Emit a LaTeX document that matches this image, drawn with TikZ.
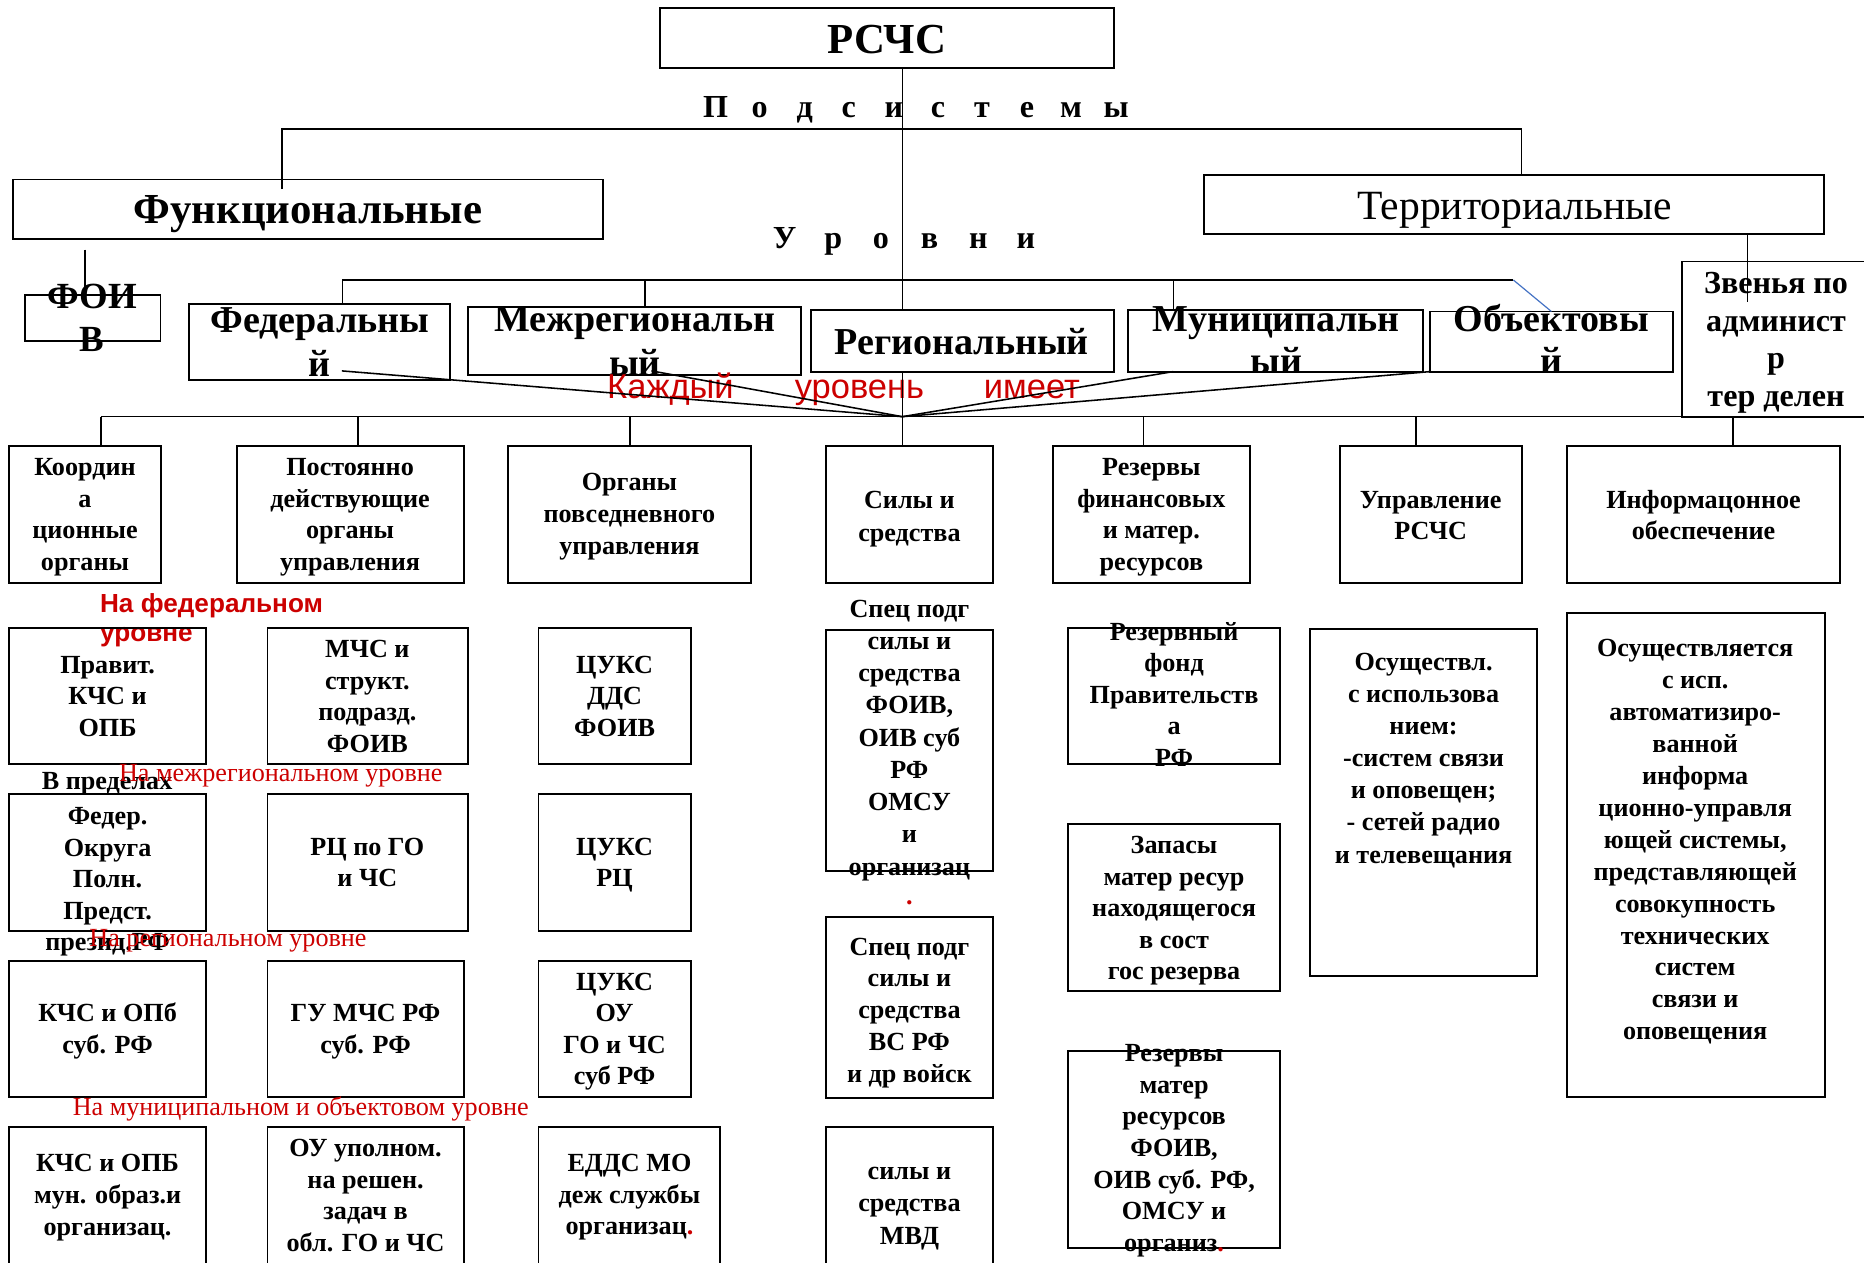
\documentclass[tikz,border=0pt]{standalone}
\usepackage{fontspec}
\setmainfont{Liberation Serif}
\setsansfont{Liberation Sans}
\definecolor{redc}{RGB}{204,0,0}
\definecolor{bluec}{RGB}{68,114,196}
\tikzset{
  boxst/.style={draw, line width=1.6pt, inner sep=0pt, outer sep=0pt},
  conn/.style={line width=1.3pt},
  big/.style={font=\fontsize{32}{37}\selectfont\bfseries, inner sep=0pt},
  huge/.style={font=\fontsize{36}{40}\selectfont\bfseries, inner sep=0pt},
  fvst/.style={font=\fontsize{31}{36}\selectfont\bfseries, inner sep=0pt},
  zvst/.style={font=\fontsize{27}{31}\selectfont\bfseries, inner sep=0pt},
  spc/.style={font=\fontsize{27}{30}\selectfont\bfseries, inner sep=0pt, anchor=base},
  sm/.style={font=\fontsize{22}{27}\selectfont\bfseries, inner sep=0pt},
  redsb/.style={font=\sffamily\fontsize{22}{25}\selectfont\bfseries, text=redc, inner sep=0pt, anchor=base west},
  redser/.style={font=\fontsize{22}{25}\selectfont, text=redc, inner sep=0pt, anchor=base west},
  redbig/.style={font=\sffamily\fontsize{29}{32}\selectfont, text=redc, inner sep=0pt, anchor=base},
}
\newcommand\bx[5]{\node[boxst, minimum width={(#4)-(#2)}, minimum height={(#5)-(#3)}] (#1) at ({((#2)+(#4))/2},{((#3)+(#5))/2}) {};}
\newcommand\mtext[6]{%
  \foreach \lnx [count=\k from 0] in {#6} {%
    \node[anchor=base, #5] (#1-\k) at (#2, {#3+\k*#4}) {\lnx};
  }%
}
\begin{document}
\begin{tikzpicture}[x=1pt,y=-1pt]
\useasboundingbox (0,0) rectangle (1568,1062);
\fill[white] (0,0) rectangle (1568,1062);
\clip (0,0) rectangle (1568,1062);

% top
\bx{rschs}{555}{7}{937}{57}
\node[huge, anchor=base] (trschs) at (746,45) {РСЧС};
\foreach \c/\xx [count=\k] in {П/602, о/639, д/677, с/714, и/752, с/789, т/826, е/864, м/901, ы/939}
  \node[spc] (sub\k) at (\xx,98.7) {\c};
\foreach \c/\xx [count=\k] in {У/660, р/701, о/741, в/782, н/823, и/863}
  \node[spc] (urv\k) at (\xx,209) {\c};

\bx{func}{11}{151}{507}{201}
\node[huge, anchor=base] (tfunc) at (259,188.4) {Функциональные};
\bx{terr}{1013}{147}{1534}{197}
\node[font=\fontsize{35}{40}\selectfont, inner sep=0pt, anchor=base] (tterr) at (1274,185) {Территориальные};

\bx{foiv}{21}{248}{135}{287}
\mtext{tfoiv}{77.5}{259.4}{36.5}{fvst}{ФОИ,В}

% levels
\bx{fed}{159}{256}{378.5}{320}
\mtext{tfed}{269}{280}{37}{big}{Федеральны,й}
\bx{mezh}{393.5}{258}{673.6}{315.5}
\mtext{tmezh}{534}{279}{36.6}{big}{Межрегиональн,ый}
\bx{reg}{682}{261}{937}{313}
\node[big, anchor=base] (treg) at (809,298.6) {Региональный};
\bx{mun}{949}{261}{1197}{312.6}
\mtext{tmun}{1073.5}{279}{35}{big}{Муниципальн,ый}
\bx{obj}{1203}{262}{1407}{312.6}
\mtext{tobj}{1305}{279}{35}{big}{Объектовы,й}
\bx{zven}{1415}{220}{1600}{350.5}
\mtext{tzven}{1494}{247}{31.7}{zvst}{Звенья по,админист,р,тер делен}

\node[redbig] (kw1) at (564,335) {Каждый};
\node[redbig] (kw2) at (723,335) {уровень};
\node[redbig] (kw3) at (868,335) {имеет};

% categories
\bx{koord}{7.5}{375}{135.5}{490.5}
\mtext{tkoord}{71.5}{400}{26.6}{sm}{Координ,а,ционные,органы}
\bx{post}{199}{375}{390}{490.5}
\mtext{tpost}{294.5}{400}{26.6}{sm}{Постоянно,действующие,органы,управления}
\bx{org}{427.5}{375}{631.5}{490.5}
\mtext{torg}{529.5}{413}{26.8}{sm}{Органы,повседневного,управления}
\bx{sily}{694.6}{375}{835}{490.5}
\mtext{tsily}{765}{428}{27.5}{sm}{Силы и,средства}
\bx{rez}{885.5}{375}{1051.5}{490.5}
\mtext{trez}{968.5}{400}{26.6}{sm}{Резервы,финансовых,и матер.,ресурсов}
\bx{upr}{1127}{375}{1280}{490.5}
\mtext{tupr}{1203.5}{427.6}{26.6}{sm}{Управление,РСЧС}
\bx{info}{1318}{375}{1547.6}{490.5}
\mtext{tinfo}{1433}{427.6}{26.6}{sm}{Информацонное,обеспечение}

% row 2
\mtext{tnafed}{84}{515}{25}{redsb}{На федеральном,уровне}
\bx{prav}{7.5}{528}{173.5}{642.7}
\mtext{tprav}{90.5}{566.4}{26.6}{sm}{Правит.,КЧС и,ОПБ}
\bx{mchs}{225}{528}{393.5}{642.7}
\mtext{tmchs}{309}{553}{26.6}{sm}{МЧС и,структ.,подразд.,ФОИВ}
\bx{cuks1}{453}{528}{581}{642.7}
\mtext{tcuks1}{517}{566.4}{26.6}{sm}{ЦУКС,ДДС,ФОИВ}
\bx{spec1}{694.6}{529.7}{835}{732.7}
\mtext{tspec1}{765}{519.3}{27.1}{sm}{Спец подг,силы и,средства,{ФОИВ,},ОИВ суб,РФ,ОМСУ,и,организац}
\node[sm, text=redc, anchor=base] (rdot) at (765,761) {.};
\bx{rezf}{898.6}{528}{1076.6}{642.7}
\mtext{trezf}{987.6}{538.4}{26.6}{sm}{Резервный,фонд,Правительств,а,РФ}
\bx{osu}{1102}{529}{1293}{821}
\mtext{tosu}{1197.5}{564}{27}{sm}{Осуществл.,с использова,нием:,-систем связи,и оповещен;,- сетей радио,и телевещания}
\bx{osu2}{1318}{516}{1535}{922.5}
\mtext{tosu2}{1426}{552}{26.9}{sm}{Осуществляется,с исп.,автоматизиро-,ванной,информа,ционно-управля,{ющей системы,},представляющей,совокупность,технических,систем,связи и,оповещения}

% row 3
\node[sm, anchor=base west] (tvpred) at (35,664.5) {В пределах};
\node[redser] (tnamezh) at (100,657.5) {На межрегиональном уровне};
\bx{feder}{7.5}{668}{173.5}{783}
\mtext{tfeder}{90.5}{693.5}{26.6}{sm}{Федер.,Округа,Полн.,Предст.,презид.РФ}
\node[redser] (tnareg) at (75,796) {На региональном уровне};
\bx{rc}{225}{668}{393.5}{783}
\mtext{trc}{309}{719.3}{26.6}{sm}{РЦ по ГО,и ЧС}
\bx{cuks2}{453}{668}{581}{783}
\mtext{tcuks2}{517}{719.3}{26.6}{sm}{ЦУКС,РЦ}
\bx{spec2}{694.6}{771}{835}{924}
\mtext{tspec2}{765}{803.4}{26.7}{sm}{Спец подг,силы и,средства,ВС РФ,и др войск}
\bx{zap}{898.6}{693}{1076.6}{833.6}
\mtext{tzap}{987.6}{718}{26.5}{sm}{Запасы,матер ресур,находящегося,в сост,гос резерва}

% row 4
\bx{kchs}{7.5}{808.5}{173.5}{923}
\mtext{tkchs}{90.5}{859.4}{26.6}{sm}{КЧС и ОПб,суб. РФ}
\bx{gu}{225}{808.5}{390}{923}
\mtext{tgu}{307.5}{859.4}{26.6}{sm}{ГУ МЧС РФ,суб. РФ}
\bx{cuks3}{453}{808.5}{581}{923}
\mtext{tcuks3}{517}{832.8}{26.6}{sm}{ЦУКС,ОУ,ГО и ЧС,суб РФ}
\bx{rezm}{898.6}{884}{1076.6}{1049.5}
\mtext{trezm}{987.6}{893}{26.65}{sm}{Резервы,матер,ресурсов,{ФОИВ,},{ОИВ суб. РФ,},ОМСУ и,организ\textcolor{redc}{.}}
\node[redser] (tnamun) at (61,938) {На муниципальном и объектовом уровне};

% row 5
\bx{kchs2}{7.5}{947.7}{173.5}{1090}
\mtext{tkchs2}{90.5}{985.6}{27}{sm}{КЧС и ОПБ,мун. образ.и,организац.}
\bx{ou}{225}{947.7}{390}{1090}
\mtext{tou}{307.5}{973}{26.6}{sm}{ОУ уполном.,на решен.,задач в,обл. ГО и ЧС}
\bx{edds}{453}{947.7}{606}{1090}
\mtext{tedds}{529.5}{985.6}{26.6}{sm}{ЕДДС МО,деж службы,организац\textcolor{redc}{.}}
\bx{mvd}{694.6}{948}{835}{1090}
\mtext{tmvd}{765}{992}{27.3}{sm}{силы и,средства,МВД}

% connectors
\coordinate (cv) at (759,350.5);
\draw[conn] (rschs.south -| cv) -- (reg.north -| cv);
\draw[conn] (reg.south -| cv) -- (cv) -- (sily.north -| cv);
\coordinate (sL) at (237,108.5);
\coordinate (sR) at (1280,108.5);
\coordinate (sLb) at (237,159);
\draw[conn] (sLb) -- (sL) -- (sR) -- (terr.north -| sR);
\coordinate (fv) at (71.5,210);
\draw[conn] (fv) -- (foiv.north -| fv);
\coordinate (zv) at (1470,254);
\draw[conn] (terr.south -| zv) -- (zv);
\coordinate (lL) at (288,235.5);
\coordinate (lR) at (1273,235.5);
\draw[conn] (fed.north -| lL) -- (lL) -- (lR);
\draw[line width=1pt, bluec] (lR) -- (obj.north);
\coordinate (lM) at (542.6,235.5);
\draw[conn] (lM) -- (mezh.north -| lM);
\coordinate (lMu) at (987,235.5);
\draw[conn] (lMu) -- (mun.north -| lMu);
\coordinate (fA) at (287.6,312);
\coordinate (mA) at (548,312);
\draw[conn] (fA) -- (cv);
\draw[conn] (mA) -- (cv);
\draw[conn] (mun.south -| lMu) -- (cv);
\draw[conn] (obj.south west) -- (cv);
\coordinate (c1) at (85,350.5);
\coordinate (c2) at (301,350.5);
\coordinate (c3) at (530,350.5);
\coordinate (c5) at (962,350.5);
\coordinate (c6) at (1191,350.5);
\coordinate (c7) at (1458,350.5);
\draw[conn] (c1) -- (c7);
\draw[conn] (c1) -- (koord.north -| c1);
\draw[conn] (c2) -- (post.north -| c2);
\draw[conn] (c3) -- (org.north -| c3);
\draw[conn] (c5) -- (rez.north -| c5);
\draw[conn] (c6) -- (upr.north -| c6);
\draw[conn] (c7) -- (info.north -| c7);
\end{tikzpicture}
\end{document}
